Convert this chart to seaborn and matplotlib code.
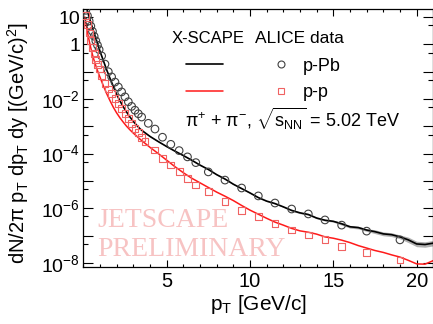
import numpy as np
import matplotlib
matplotlib.use("Agg")
import matplotlib.pyplot as plt
import seaborn as sns
from matplotlib.lines import Line2D
from matplotlib.ticker import FixedLocator, MultipleLocator, NullFormatter

# ---------------- data (log10 of invariant yield) ----------------
# X-SCAPE calculation, common pT grid for both systems
xscape_pt = [0.1, 0.2, 0.3, 0.4, 0.5, 0.6, 0.7, 0.8, 0.9, 1.0,
             1.2, 1.4, 1.6, 1.8, 2.0, 2.2, 2.4, 2.6, 2.8, 3.0, 3.2, 3.4, 3.6, 3.8, 4.0,
             4.5, 5.0, 5.5, 6.0, 6.5, 7.0, 7.5, 8.0, 8.5, 9.0, 9.5, 10.0, 10.5, 11.0,
             11.5, 12.0, 12.5, 13.0, 13.5, 14.0, 14.5, 15.0, 15.5, 16.0, 16.5, 17.0,
             17.5, 18.0, 18.5, 19.0, 19.5, 20.0, 20.5, 21.0]
xscape_ppb_log = [1.55, 1.33, 1.11, 0.90, 0.70, 0.51, 0.32, 0.13, -0.06, -0.25,
                  -0.59, -0.93, -1.24, -1.54, -1.83, -2.07, -2.29, -2.48, -2.66, -2.82,
                  -2.96, -3.09, -3.19, -3.28, -3.37,
                  -3.56, -3.74, -3.91, -4.07, -4.24, -4.42, -4.58, -4.77, -4.93, -5.12,
                  -5.28, -5.44, -5.61, -5.74, -5.83, -5.95, -6.08, -6.17, -6.23, -6.36,
                  -6.44, -6.48, -6.57, -6.68, -6.71, -6.80, -6.86, -6.94, -6.97, -7.05,
                  -7.16, -7.31, -7.33, -7.28]
xscape_ppb_err = [0.02] * 25 + [0.02] * 16 + [0.03] * 6 + [0.05] * 4 + [0.07] * 4 + [0.10] * 4
xscape_pp_log = [1.00, 0.62, 0.29, 0.00, -0.26, -0.49, -0.69, -0.87, -1.04, -1.20,
                 -1.51, -1.80, -2.06, -2.30, -2.51, -2.69, -2.85, -3.00, -3.13, -3.25,
                 -3.36, -3.47, -3.57, -3.67, -3.77,
                 -4.00, -4.24, -4.48, -4.70, -4.90, -5.07, -5.24, -5.41, -5.56, -5.72,
                 -5.90, -6.07, -6.22, -6.37, -6.51, -6.62, -6.74, -6.83, -6.88, -6.95,
                 -7.05, -7.10, -7.17, -7.26, -7.37, -7.46, -7.55, -7.62, -7.71, -7.79,
                 -7.91, -8.04, -8.05, -7.92]

# ALICE measurements
alice_ppb_pt = [0.15, 0.25, 0.35, 0.45, 0.55, 0.65, 0.75, 0.85, 0.95, 1.1, 1.3,
                1.5, 1.7, 1.9, 2.1, 2.3, 2.5, 2.7, 2.9, 3.1, 3.3, 3.5, 3.9, 4.3,
                4.75, 5.25, 5.75, 6.25, 6.75, 7.5, 8.5, 9.5, 10.5, 11.5, 12.5,
                13.5, 14.5, 15.5, 17.0, 19.0]
alice_ppb_log = [1.25, 1.05, 0.86, 0.67, 0.48, 0.30, 0.13, -0.03, -0.19, -0.42, -0.72,
                 -1.00, -1.19, -1.38, -1.56, -1.74, -1.92, -2.10, -2.27, -2.41, -2.54,
                 -2.66, -2.89, -3.10, -3.40, -3.66, -3.89, -4.12, -4.33, -4.67, -4.97,
                 -5.26, -5.55, -5.81, -6.03, -6.21, -6.43, -6.62, -6.84, -7.16]
alice_pp_pt = [0.15, 0.25, 0.35, 0.45, 0.55, 0.65, 0.75, 0.85, 0.95, 1.1, 1.3,
               1.5, 1.7, 1.9, 2.1, 2.3, 2.5, 2.7, 2.9, 3.1, 3.3, 3.5, 3.7, 4.25,
               4.75, 5.25, 5.75, 6.25, 6.75, 7.5, 8.5, 9.5, 10.5, 11.5, 12.5,
               13.5, 14.5, 15.5, 17.0, 19.0]
alice_pp_log = [1.05, 0.72, 0.42, 0.14, -0.10, -0.33, -0.54, -0.73, -0.90, -1.14, -1.43,
                -1.63, -1.80, -1.98, -2.17, -2.35, -2.53, -2.71, -2.89, -3.07, -3.23,
                -3.40, -3.56, -3.87, -4.17, -4.42, -4.66, -4.90, -5.15, -5.40, -5.76,
                -6.07, -6.31, -6.55, -6.80, -6.98, -7.16, -7.41, -7.63, -7.90]

y_decades = [1, 0, -1, -2, -3, -4, -5, -6, -7, -8]
y_labels = {1: "10", 0: "1", -2: r"$10^{-2}$", -4: r"$10^{-4}$",
            -6: r"$10^{-6}$", -8: r"$10^{-8}$"}
x_major = [5, 10, 15, 20]

# ---------------- style ----------------
sns.set_theme(style="ticks")
plt.rcParams["font.family"] = ["Liberation Sans", "DejaVu Sans"]
plt.rcParams["mathtext.fontset"] = "custom"
plt.rcParams["mathtext.rm"] = "Liberation Sans"
plt.rcParams["mathtext.it"] = "Liberation Sans:italic"
plt.rcParams["mathtext.bf"] = "Liberation Sans:bold"
for key in ("text.color", "axes.labelcolor", "xtick.color", "ytick.color"):
    plt.rcParams[key] = "black"

fig = plt.figure(figsize=(4.33, 3.24), dpi=100)
ax = fig.add_axes([0.1924, 0.1744, 0.8083, 0.7978])
ax.set_yscale("log")

ppb_line = 10 ** np.array(xscape_ppb_log)
pp_line = 10 ** np.array(xscape_pp_log)
err = np.array(xscape_ppb_err)

ax.fill_between(xscape_pt, 10 ** (np.array(xscape_ppb_log) - err),
                10 ** (np.array(xscape_ppb_log) + err),
                color="#b0b0b0", lw=0, zorder=1)
sns.lineplot(x=xscape_pt, y=ppb_line, color="black", lw=1.2, ax=ax,
             sort=False, estimator=None, zorder=2)
sns.lineplot(x=xscape_pt, y=pp_line, color="#ff1a1a", lw=1.1, ax=ax,
             sort=False, estimator=None, zorder=2)
sns.scatterplot(x=alice_ppb_pt, y=10 ** np.array(alice_ppb_log), marker="o", s=30,
                facecolor="none", edgecolor="#404040", linewidth=0.8, ax=ax,
                legend=False, zorder=3)
sns.scatterplot(x=alice_pp_pt, y=10 ** np.array(alice_pp_log), marker="s", s=24,
                facecolor="none", edgecolor="#f06262", linewidth=0.8, ax=ax,
                legend=False, zorder=3)

ax.set_xlim(0, 21)
ax.set_ylim(10 ** -8.172, 10 ** 1.297)

# axes frame and ticks
for sp in ax.spines.values():
    sp.set_color("black")
    sp.set_linewidth(0.9)
ax.xaxis.set_major_locator(FixedLocator(x_major))
ax.xaxis.set_minor_locator(MultipleLocator(1))
ax.set_xticklabels([str(v) for v in x_major])
ax.yaxis.set_major_locator(FixedLocator([10.0 ** d for d in y_decades]))
ax.yaxis.set_minor_locator(FixedLocator([5 * 10.0 ** d for d in range(-9, 2)]))
ax.yaxis.set_minor_formatter(NullFormatter())
ax.set_yticklabels([y_labels.get(d, "") for d in y_decades])
ax.tick_params(which="both", direction="in", top=True, right=True,
               color="black", labelcolor="black", width=0.8)
ax.tick_params(axis="x", which="major", length=4.8, labelsize=14.5, pad=3)
ax.tick_params(axis="x", which="minor", length=2.4)
ax.tick_params(axis="y", which="major", length=7.2, labelsize=14, pad=2.4)
ax.tick_params(axis="y", which="minor", length=3.6)
ax.grid(False)

ax.set_xlabel(r"p$_{\rm T}$ [GeV/c]", fontsize=15)
ax.xaxis.set_label_coords(0.5, -0.098)
ax.set_ylabel(r"dN/2π p$_{\rm T}$ dp$_{\rm T}$ dy [(GeV/c)$^{2}$]", fontsize=14.5)
ax.yaxis.set_label_coords(-0.15, 0.48)

# legend
handles = [Line2D([], [], color="black", lw=1.2),
           Line2D([], [], color="#ff1a1a", lw=1.1),
           Line2D([], [], ls="none", marker="o", ms=5, mfc="none", mec="#404040", mew=0.8),
           Line2D([], [], ls="none", marker="s", ms=5, mfc="none", mec="#f06262", mew=0.8)]
leg = ax.legend(handles, ["", "", "p-Pb", "p-p"], ncol=2, frameon=False,
                loc="upper left", bbox_to_anchor=(0.293, 0.812), borderpad=0,
                borderaxespad=0, fontsize=13, handlelength=2.05, handletextpad=0.2,
                columnspacing=2.0, labelspacing=0.52)

ax.text(0.253, 0.867, "X-SCAPE", transform=ax.transAxes, fontsize=12, va="baseline")
ax.text(0.4906, 0.867, "ALICE data", transform=ax.transAxes, fontsize=12.5, va="baseline")
ax.text(0.2906, 0.5447, r"π$^{+}$ + π$^{-}$, $\sqrt{\rm s_{NN}}$ = 5.02 TeV",
        transform=ax.transAxes, fontsize=13, va="baseline")

# preliminary stamp
for txt, yy in (("JETSCAPE", 0.1567), ("PRELIMINARY", 0.0445)):
    ax.text(0.0394, yy, txt, transform=ax.transAxes, fontsize=20,
            family="Liberation Serif", color="#f7c3c3", va="baseline", zorder=0)

fig.savefig("out.png", dpi=100)
